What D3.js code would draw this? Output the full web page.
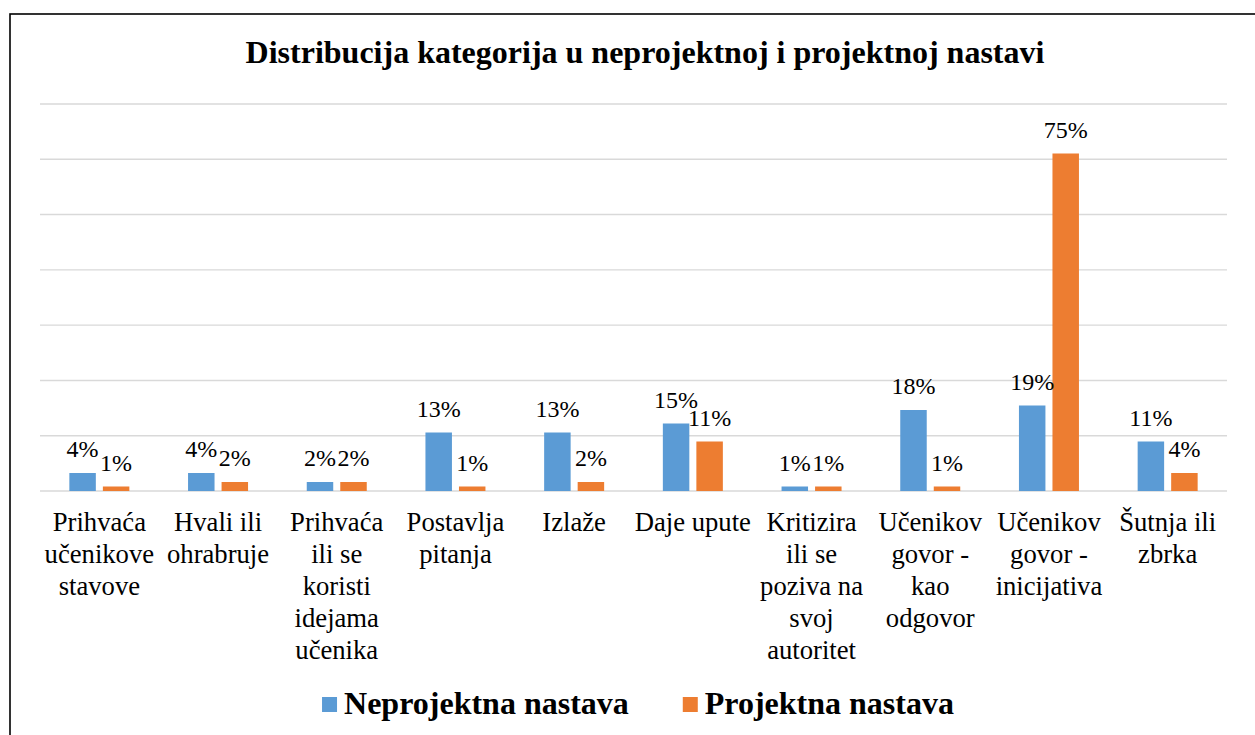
<!DOCTYPE html>
<html>
<head>
<meta charset="utf-8">
<script src="https://cdn.jsdelivr.net/npm/d3@7"></script>
<style>
  html, body { margin: 0; padding: 0; background: #fff; }
  svg { display: block; }
  svg text { font-family: "Liberation Serif", "DejaVu Serif", serif; }
</style>
</head>
<body>
<svg id="chart" width="1255" height="735"></svg>
<script>
// data
const categories = [
  'Prihvaća učenikove stavove',
  'Hvali ili ohrabruje',
  'Prihvaća ili se koristi idejama učenika',
  'Postavlja pitanja',
  'Izlaže',
  'Daje upute',
  'Kritizira ili se poziva na svoj autoritet',
  'Učenikov govor - kao odgovor',
  'Učenikov govor - inicijativa',
  'Šutnja ili zbrka'
]
const seriesNames = ['Neprojektna nastava', 'Projektna nastava']
const neprojektna = [4, 4, 2, 13, 13, 15, 1, 18, 19, 11]
const projektna = [1, 2, 2, 1, 2, 11, 1, 1, 75, 4]
const colors = ['#5B9BD5', '#ED7D31']

const FONT = '"Liberation Serif", serif'
const svg = d3.select('#chart')
const W = 1255, H = 735
const gridLeft = 40, gridRight = 1227, gridTop = 104, gridBottom = 491

// outer frame (right and bottom edges fall outside the picture)
svg.append('rect')
  .attr('x', 10).attr('y', 14)
  .attr('width', W + 20).attr('height', H + 20)
  .attr('fill', 'none').attr('stroke', '#000').attr('stroke-width', 1.6)

svg.append('text')
  .attr('x', 645).attr('y', 63)
  .attr('text-anchor', 'middle')
  .attr('font-family', FONT)
  .attr('font-size', 32).attr('font-weight', 'bold')
  .text('Distribucija kategorija u neprojektnoj i projektnoj nastavi')

let x0 = d3.scaleBand().domain(categories).range([gridLeft, gridRight])
let x1 = d3.scaleBand().domain(seriesNames).range([x0.bandwidth() / 2 - 30, x0.bandwidth() / 2 + 30]).paddingInner(0.21)
let y = d3.scaleLinear().domain([0, 86]).range([gridBottom, gridTop])

// gridlines: 7 equal steps, axis itself is hidden
let gridVals = d3.range(8).map(i => i * y.domain()[1] / 7)
svg.append('g')
  .selectAll('line')
  .data(gridVals)
  .join('line')
  .attr('x1', gridLeft).attr('x2', gridRight)
  .attr('y1', d => y(d)).attr('y2', d => y(d))
  .attr('stroke', '#D9D9D9').attr('stroke-width', 1.4)

let rows = categories.map((c, i) => ({ cat: c, values: [neprojektna[i], projektna[i]] }))

let groups = svg.append('g')
  .selectAll('g.cat')
  .data(rows)
  .join('g')
  .attr('class', 'cat')
  .attr('transform', d => `translate(${x0(d.cat)},0)`)

groups.selectAll('rect')
  .data(d => d.values.map((v, si) => ({ v, si })))
  .join('rect')
  .attr('x', d => x1(seriesNames[d.si]))
  .attr('width', x1.bandwidth())
  .attr('y', d => y(d.v))
  .attr('height', d => y(0) - y(d.v))
  .attr('fill', d => colors[d.si])

groups.selectAll('text.lbl')
  .data(d => d.values.map((v, si) => ({ v, si })))
  .join('text')
  .attr('class', 'lbl')
  .attr('x', d => x1(seriesNames[d.si]) + x1.bandwidth() / 2)
  .attr('y', d => y(d.v) - 16)
  .attr('text-anchor', 'middle')
  .attr('font-family', FONT)
  .attr('font-size', 24)
  .attr('fill', '#000')
  .text(d => d.v + '%')

// category labels, wrapped to the band width
let catFont = 26.67, lineH = 32, maxW = 119
let catLabels = svg.append('g')
rows.forEach(r => {
  let t = catLabels.append('text')
    .attr('text-anchor', 'middle')
    .attr('font-family', FONT)
    .attr('font-size', catFont)
    .attr('fill', '#000')
  let cx = x0(r.cat) + x0.bandwidth() / 2
  let words = r.cat.split(' ')
  let lines = [], cur = ''
  let probe = t.append('tspan')
  words.forEach(w => {
    let test = cur ? cur + ' ' + w : w
    probe.text(test)
    if (probe.node().getComputedTextLength() > maxW && cur) {
      lines.push(cur)
      cur = w
    } else {
      cur = test
    }
  })
  lines.push(cur)
  probe.remove()
  lines.forEach((l, i) => {
    t.append('tspan').attr('x', cx).attr('y', 531 + i * lineH).text(l)
  })
})

// legend
let legend = svg.append('g')
let lx = 0
seriesNames.forEach((n, i) => {
  let g = legend.append('g').attr('transform', `translate(${lx},0)`)
  g.append('rect').attr('x', 0).attr('y', 697).attr('width', 15).attr('height', 15).attr('fill', colors[i])
  let t = g.append('text').attr('x', 22).attr('y', 714)
    .attr('font-family', FONT)
    .attr('font-size', 32).attr('font-weight', 'bold').text(n)
  lx += 22 + t.node().getComputedTextLength() + 54
})
let legW = lx - 54
legend.attr('transform', `translate(${638 - legW / 2},0)`)
</script>
</body>
</html>
